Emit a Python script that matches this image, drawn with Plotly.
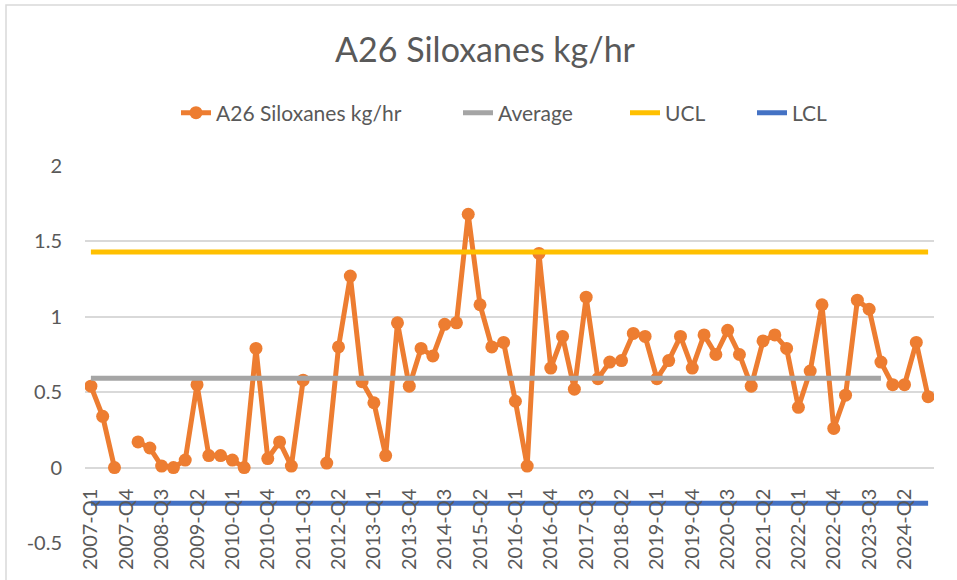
import plotly.graph_objects as go

# ---------------- data ----------------
QUARTERS = [f"{y}-Q{q}" for y in range(2007, 2025) for q in (1, 2, 3, 4)]

SILOXANES = [
    0.54, 0.34, 0.00, None,   # 2007
    0.17, 0.13, 0.01, 0.00,   # 2008
    0.05, 0.55, 0.08, 0.08,   # 2009
    0.05, 0.00, 0.79, 0.06,   # 2010
    0.17, 0.01, 0.58, None,   # 2011
    0.03, 0.80, 1.27, 0.57,   # 2012
    0.43, 0.08, 0.96, 0.54,   # 2013
    0.79, 0.74, 0.95, 0.96,   # 2014
    1.68, 1.08, 0.80, 0.83,   # 2015
    0.44, 0.01, 1.42, 0.66,   # 2016
    0.87, 0.52, 1.13, 0.59,   # 2017
    0.70, 0.71, 0.89, 0.87,   # 2018
    0.59, 0.71, 0.87, 0.66,   # 2019
    0.88, 0.75, 0.91, 0.75,   # 2020
    0.54, 0.84, 0.88, 0.79,   # 2021
    0.40, 0.64, 1.08, 0.26,   # 2022
    0.48, 1.11, 1.05, 0.70,   # 2023
    0.55, 0.55, 0.83, 0.47,   # 2024
]

AVERAGE_VALUE = 0.593
UCL_VALUE = 1.43
LCL_VALUE = -0.237
AVERAGE_LAST_QUARTER = "2023-Q4"

TICK_LABELS = [
    "2007-Q1", "2007-Q4", "2008-Q3", "2009-Q2", "2010-Q1", "2010-Q4",
    "2011-Q3", "2012-Q2", "2013-Q1", "2013-Q4", "2014-Q3", "2015-Q2",
    "2016-Q1", "2016-Q4", "2017-Q3", "2018-Q2", "2019-Q1", "2019-Q4",
    "2020-Q3", "2021-Q2", "2022-Q1", "2022-Q4", "2023-Q3", "2024-Q2",
]

Y_TICKS = [-0.5, 0, 0.5, 1, 1.5, 2]

SERIES_NAMES = ["A26 Siloxanes kg/hr", "Average", "UCL", "LCL"]
SERIES_COLORS = ["#ED7D31", "#A5A5A5", "#FFC000", "#4472C4"]

# ---------------- derived series ----------------
avg_end = QUARTERS.index(AVERAGE_LAST_QUARTER)
average = [AVERAGE_VALUE if i <= avg_end else None for i in range(len(QUARTERS))]
ucl = [UCL_VALUE] * len(QUARTERS)
lcl = [LCL_VALUE] * len(QUARTERS)

FONT = "Lato"
TEXT = "#595959"
W, H = 957, 580
L, R, T, B = 85, 23, 166, 37

# legend text start positions (px from left) for each entry, Excel-like spacing
LEGEND_TEXT_X = [217, 499, 666, 793]
LEGEND_NAMES = ["legend", "legend2", "legend3", "legend4"]

fig = go.Figure()
fig.add_trace(go.Scatter(
    x=QUARTERS, y=SILOXANES, name=SERIES_NAMES[0],
    mode="lines+markers",
    line=dict(color=SERIES_COLORS[0], width=5),
    marker=dict(color=SERIES_COLORS[0], size=13),
    legend=LEGEND_NAMES[0],
))
for name, col, vals, lg in zip(SERIES_NAMES[1:], SERIES_COLORS[1:],
                               [average, ucl, lcl], LEGEND_NAMES[1:]):
    fig.add_trace(go.Scatter(
        x=QUARTERS, y=vals, name=name, mode="lines",
        line=dict(color=col, width=5), legend=lg,
    ))

y_min, y_max = -0.5, 2.0
zero_pos = (0 - y_min) / (y_max - y_min)

# chart-area border (Excel style), in paper coordinates
pw, ph = W - L - R, H - T - B
bx0 = (6 - L) / pw
by1 = (H - B - 5) / ph

legend_layouts = {}
for lg, tx in zip(LEGEND_NAMES, LEGEND_TEXT_X):
    legend_layouts[lg] = dict(
        orientation="h",
        xref="container", x=(tx - 41) / W, xanchor="left",
        yref="container", y=1 - 113 / H, yanchor="middle",
        font=dict(family=FONT, size=21, color=TEXT),
        bgcolor="rgba(0,0,0,0)",
    )

fig.update_layout(
    width=W, height=H,
    margin=dict(l=L, r=R, t=T, b=B),
    paper_bgcolor="white", plot_bgcolor="white",
    font=dict(family=FONT, color=TEXT, size=20),
    title=dict(
        text="A26 Siloxanes kg/hr",
        font=dict(family=FONT, size=34, color=TEXT),
        xref="container", x=485 / W, xanchor="center",
        yref="container", y=1 - 50 / H, yanchor="middle",
    ),
    showlegend=True,
    hovermode=False,
    xaxis=dict(
        type="category",
        range=[-0.5, len(QUARTERS) - 0.5],
        tickmode="array",
        tickvals=TICK_LABELS,
        ticktext=TICK_LABELS,
        tickangle=-90,
        showgrid=False,
        showline=False,
        zeroline=False,
        ticks="",
        anchor="free",
        position=zero_pos,
        ticklabelstandoff=16,
        tickfont=dict(family=FONT, size=20, color=TEXT),
        automargin=False,
    ),
    yaxis=dict(
        range=[y_min, y_max],
        tickmode="array",
        tickvals=Y_TICKS,
        ticktext=[f"{v:g}" for v in Y_TICKS],
        showgrid=True, gridcolor="#D9D9D9", gridwidth=1.5,
        zeroline=False, showline=False,
        ticks="",
        ticklabelstandoff=22,
        tickfont=dict(family=FONT, size=20, color=TEXT),
        automargin=False,
    ),
    shapes=[dict(
        type="rect", xref="paper", yref="paper",
        x0=bx0, x1=1.2, y0=-0.3, y1=by1,
        line=dict(color="#D9D9D9", width=1.5),
        fillcolor="rgba(0,0,0,0)", layer="below",
    )],
    **legend_layouts,
)

fig.write_html(
    "out.html",
    config={"displayModeBar": False},
    post_script="document.body.style.margin='0px';",
)
